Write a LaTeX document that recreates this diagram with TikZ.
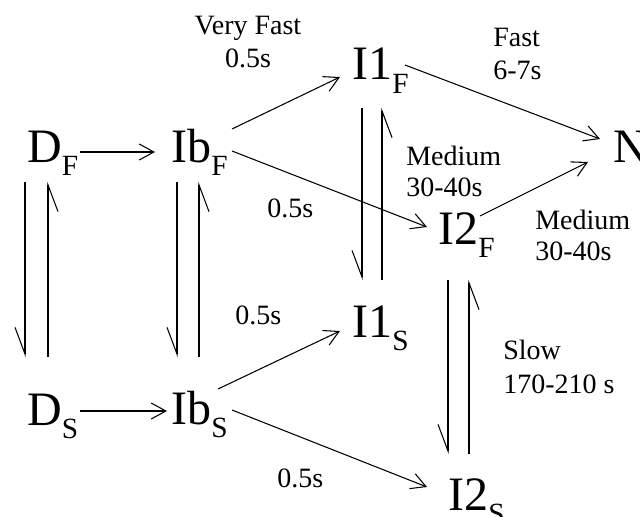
\documentclass[tikz,border=0pt]{standalone}
\usepackage{fontspec}
\setmainfont{Liberation Serif}
\usetikzlibrary{arrows.meta,calc}
\newcommand{\lowsub}[1]{\raisebox{-10pt}{\fontsize{22}{22}\selectfont #1}}
\tikzset{
  stnode/.style={font=\fontsize{36}{36}\selectfont,inner sep=0pt,anchor=base west},
  ratelbl/.style={font=\fontsize{21}{25}\selectfont,inner sep=0pt,anchor=base west,align=left},
  fwd/.style={-{Straight Barb[length=11pt,width=12pt]},line width=0.8pt},
  hback/.style={-{Straight Barb[harpoon,swap,length=20pt,width=15pt]},line width=0.8pt}
}
\begin{document}
\begin{tikzpicture}[x=0.75pt,y=-0.75pt]
\useasboundingbox (0,0) rectangle (640,517);
% states
\node[stnode] (df) at (27,162) {D\lowsub{F}};
\node[stnode] (ibf) at (171,162) {Ib\lowsub{F}};
\node[stnode] (i1f) at (352,80) {I1\lowsub{F}};
\node[stnode] (n) at (613,163) {N};
\node[stnode] (i2f) at (438,244) {I2\lowsub{F}};
\node[stnode] (ds) at (27,425) {D\lowsub{S}};
\node[stnode] (ibs) at (171,424) {Ib\lowsub{S}};
\node[stnode] (i1s) at (352,337) {I1\lowsub{S}};
\node[stnode] (i2s) at (448,510) {I2\lowsub{S}};
% rates (two-line labels sit on their last baseline)
\node[ratelbl,anchor=base,align=center] (vf) at (248,68) {Very Fast\\0.5s};
\node[ratelbl] (fst) at (493,80) {Fast\\6-7s};
\node[ratelbl,font=\fontsize{21}{24}\selectfont] (md1) at (406,197) {Medium\\30-40s};
\node[ratelbl,font=\fontsize{21}{24}\selectfont] (md2) at (535,261) {Medium\\30-40s};
\node[ratelbl] (h1) at (267,218) {0.5s};
\node[ratelbl] (h2) at (235,325) {0.5s};
\node[ratelbl] (h3) at (277,487) {0.5s};
\node[ratelbl] (slw) at (503,393) {Slow\\170-210 s};
% forward steps
\draw[fwd] ($(df.base west)+(53,-10)$) -- ($(ibf.base west)+(-16,-10)$);
\draw[fwd] ($(ds.base west)+(53,-14)$) -- ($(ibs.base west)+(-4,-13)$);
\draw[fwd] ($(ibf.base west)+(61,-33)$) -- ($(i1f.base west)+(-12,-3)$);
\draw[fwd] ($(ibf.base west)+(61,-11)$) -- ($(i2f.base west)+(-11,-17)$);
\draw[fwd] ($(i1f.base west)+(53,-15)$) -- ($(n.base west)+(-13,-24)$);
\draw[fwd] ($(i2f.base west)+(42,-28)$) -- ($(n.base west)+(-25,-1)$);
\draw[fwd] ($(ibs.base west)+(47,-35)$) -- ($(i1s.base west)+(-12,-6)$);
\draw[fwd] ($(ibs.base west)+(61,-14)$) -- ($(i2s.base west)+(-21,-23)$);
% fast <-> slow pairs
\draw[hback] ($(df.base west)+(-2,20)$) -- ($(ds.base west)+(-2,-68)$);
\draw[hback] ($(ds.base west)+(21,-68)$) -- ($(df.base west)+(21,20)$);
\draw[hback] ($(ibf.base west)+(6,20)$) -- ($(ibs.base west)+(6,-67)$);
\draw[hback] ($(ibs.base west)+(28,-67)$) -- ($(ibf.base west)+(28,20)$);
\draw[hback] ($(i1f.base west)+(10,28)$) -- ($(i1s.base west)+(10,-57)$);
\draw[hback] ($(i1s.base west)+(30,-57)$) -- ($(i1f.base west)+(30,28)$);
\draw[hback] ($(i2f.base west)+(10,36)$) -- ($(i2s.base west)+(0,-56)$);
\draw[hback] ($(i2s.base west)+(21,-56)$) -- ($(i2f.base west)+(31,36)$);
\end{tikzpicture}
\end{document}
